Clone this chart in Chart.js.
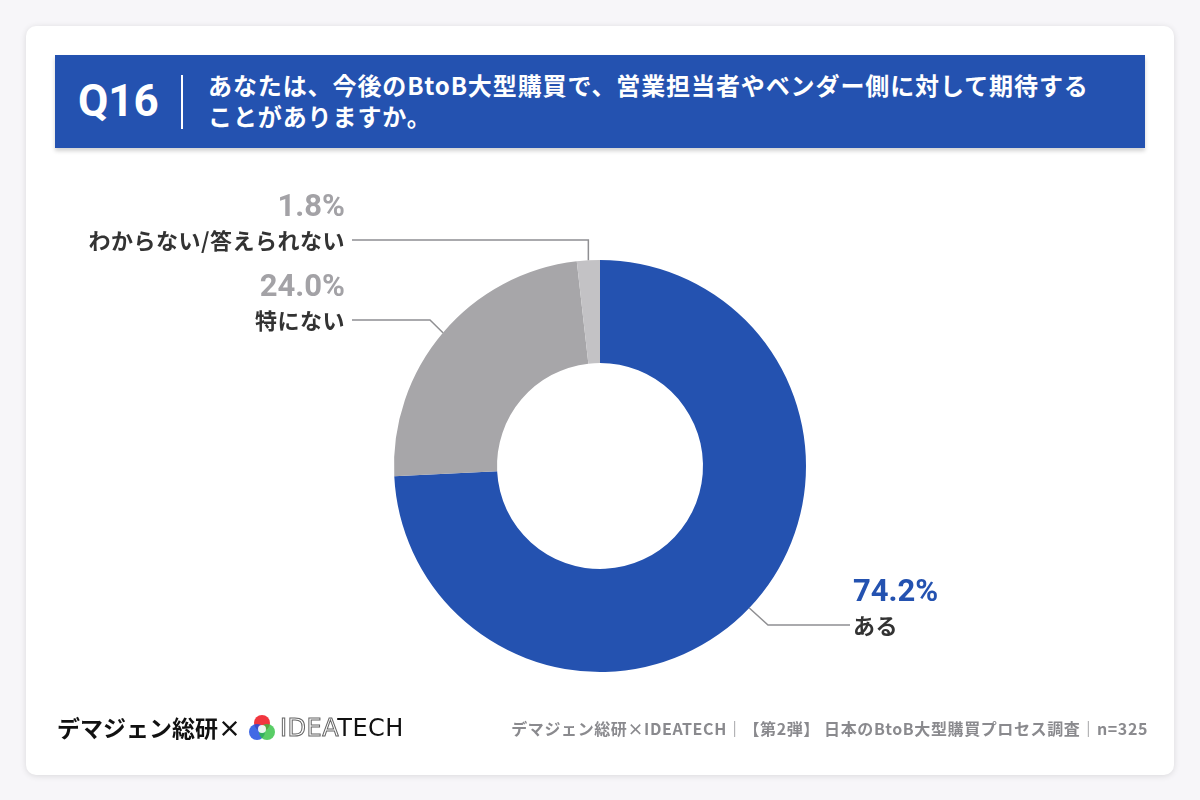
<!DOCTYPE html>
<html>
<head>
<meta charset="utf-8">
<script src="https://cdn.jsdelivr.net/npm/chart.js@4"></script>
<style>
  body { margin: 0; width: 1200px; height: 800px; background: #f7f6f9; font-family: "Noto Sans CJK JP", "Noto Sans", sans-serif; position: relative; overflow: hidden; }
  .card { position: absolute; left: 26px; top: 26px; width: 1148px; height: 749px; background: #fff; border-radius: 10px; box-shadow: 0 1px 6px rgba(0,0,0,0.12); }
  .head { position: absolute; left: 55px; top: 55px; width: 1090px; height: 93px; background: #2452b0; box-shadow: 0 3px 4px rgba(0,0,0,0.18); color: #fff; }
  .qnum { position: absolute; left: 23px; top: 16px; font-size: 44px; font-weight: 700; font-family: Roboto, "Noto Sans", sans-serif; line-height: 60px; }
  .bar { position: absolute; left: 126px; top: 20px; width: 2px; height: 54px; background: #fff; }
  .qtext { position: absolute; left: 153px; top: 14px; font-size: 24px; font-weight: 700; line-height: 31px; letter-spacing: 0.9px; }
  #wrap { position: absolute; left: 55px; top: 170px; width: 1090px; height: 592px; }
  .brand { position: absolute; left: 57px; top: 710px; font-size: 23px; font-weight: 700; color: #111; line-height: 34px; }
  .logo { position: absolute; left: 248px; top: 714px; }
  .idea { position: absolute; left: 280px; top: 711px; font-family: "DejaVu Sans", sans-serif; font-size: 24px; line-height: 34px; letter-spacing: 0.5px; }
  .idea .o { color: #fff; -webkit-text-stroke: 1px #666; }
  .idea .s { color: #111; }
  .src { position: absolute; right: 52px; top: 716px; font-size: 16px; font-weight: 700; color: #8a8a8e; line-height: 24px; letter-spacing: 0.6px; }
</style>
</head>
<body>
<div class="card"></div>
<div class="head">
  <div class="qnum">Q16</div>
  <div class="bar"></div>
  <div class="qtext">あなたは、今後のBtoB大型購買で、営業担当者やベンダー側に対して期待する<br>ことがありますか。</div>
</div>
<div id="wrap"><canvas id="myChart"></canvas></div>
<div class="brand">デマジェン総研×</div>
<svg class="logo" width="28" height="28" viewBox="0 0 28 28">
  <circle cx="14" cy="9" r="8" fill="#f0202a" opacity="0.9"/>
  <circle cx="9" cy="18" r="8" fill="#2050e0" opacity="0.85"/>
  <circle cx="19" cy="18" r="8" fill="#30c040" opacity="0.8"/>
  <circle cx="14" cy="15" r="4" fill="#fff" opacity="0.9"/>
</svg>
<div class="idea"><span class="o">IDEA</span><span class="s">TECH</span></div>
<div class="src">デマジェン総研×IDEATECH｜【第2弾】 日本のBtoB大型購買プロセス調査｜n=325</div>

<script>
var categories = ["ある", "特にない", "わからない/答えられない"];
var values = [74.2, 24.0, 1.8];
var colors = ["#2452b0", "#a7a6a9", "#c3c2c5"];
var pctColors = ["#2452b0", "#a3a2a6", "#a3a2a6"];

// label placement: elbow point and text anchor, relative to the doughnut centre
var labelPos = [
  { elbow: [168, 159], end: [250, 159], align: "left" },
  { elbow: [-170, -146], end: [-248, -146], align: "right" },
  { elbow: [-12, -226], end: [-248, -226], align: "right" }
];

var calloutPlugin = {
  id: "callouts",
  afterDatasetsDraw: function (chart) {
    var ctx = chart.ctx;
    var arcs = chart.getDatasetMeta(0).data;
    arcs.forEach(function (arc, i) {
      var p = labelPos[i];
      var mid = (arc.startAngle + arc.endAngle) / 2;
      var ax = arc.x + Math.cos(mid) * arc.outerRadius;
      var ay = arc.y + Math.sin(mid) * arc.outerRadius;
      var ex = arc.x + p.elbow[0], ey = arc.y + p.elbow[1];
      var tx = arc.x + p.end[0], ty = arc.y + p.end[1];
      if (i == 2) ex = ax;
      ctx.save();
      ctx.strokeStyle = "#8f8f92";
      ctx.lineWidth = 1.5;
      ctx.beginPath();
      ctx.moveTo(ax, ay);
      ctx.lineTo(ex, ey);
      ctx.lineTo(tx, ty);
      ctx.stroke();
      var x = p.align == "left" ? tx + 3 : tx - 7;
      ctx.textAlign = p.align;
      ctx.textBaseline = "middle";
      ctx.fillStyle = pctColors[i];
      ctx.font = "bold 31px Roboto, 'Noto Sans CJK JP'";
      ctx.fillText(values[i].toFixed(1) + "%", x, ty - 32);
      ctx.fillStyle = "#333";
      ctx.font = "bold 22px 'Noto Sans CJK JP'";
      ctx.letterSpacing = "0.5px";
      ctx.fillText(categories[i], x, ty + 1);
      ctx.restore();
    });
  }
};

var ctx = document.getElementById("myChart").getContext("2d");

var myChart = new Chart(ctx, {
  type: "doughnut",
  data: {
    labels: categories,
    datasets: [
      {
        data: values,
        backgroundColor: colors,
        borderWidth: 0,
      },
    ],
  },
  options: {
    responsive: true,
    maintainAspectRatio: false,
    animation: false,
    cutout: "50%",
    layout: { padding: { top: 90, bottom: 90 } },
    plugins: {
      legend: { display: false },
      tooltip: { enabled: false },
    },
  },
  plugins: [calloutPlugin],
});
</script>
</body>
</html>
